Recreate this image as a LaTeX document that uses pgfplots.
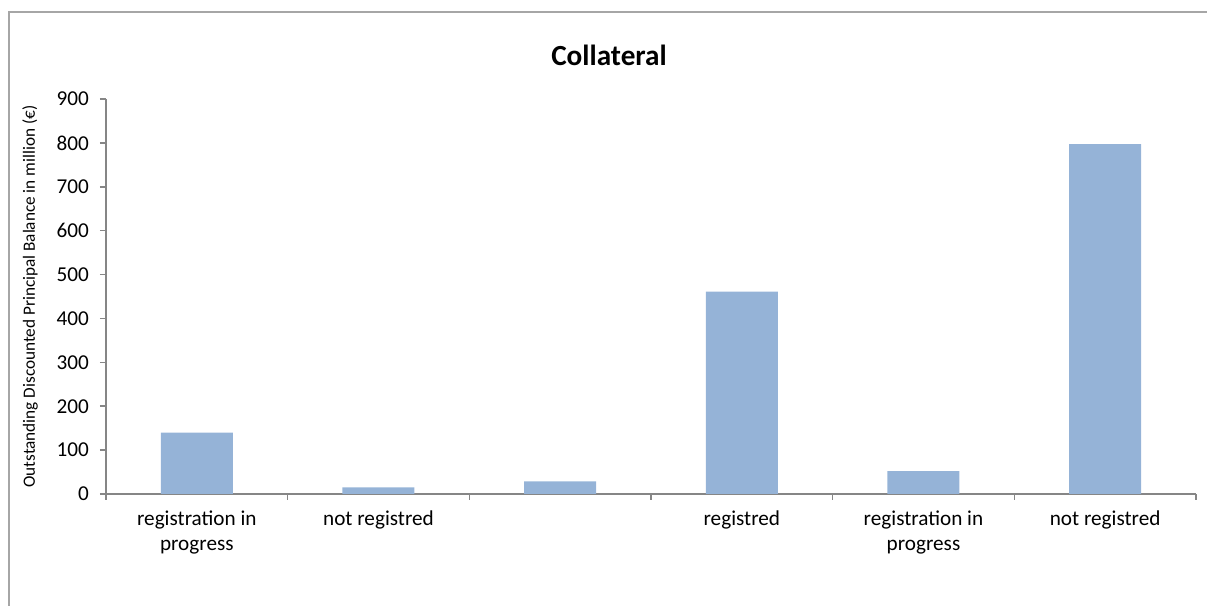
\documentclass[border=0pt]{standalone}
\usepackage{fontspec}
\setmainfont{Carlito}
\usepackage{pgfplots}
\pgfplotsset{compat=1.18}
\definecolor{barblue}{HTML}{95B3D7}
\definecolor{axisgray}{HTML}{868686}
\definecolor{framegray}{HTML}{A6A6A6}
\begin{document}
\begin{tikzpicture}
  \useasboundingbox (0,0) rectangle (603.5pt,303pt);
  % chart frame (only top and left edges are inside the picture)
  \draw[framegray, line width=0.8pt] (4.5pt,-2pt) -- (4.5pt,297pt) -- (610pt,297pt);
  \begin{axis}[
      at={(53pt,56pt)},
      anchor=origin,
      scale only axis,
      width=545pt,
      height=197.5pt,
      xmin=0.5, xmax=6.5,
      ymin=0, ymax=900,
      axis x line=bottom,
      axis y line=left,
      axis line style={-, axisgray, line width=0.75pt},
      ytick={0,100,...,900},
      xtick={1,...,6},
      major x tick style={draw=none},
      minor xtick={0.5,1.5,...,6.5},
      minor x tick style={axisgray, line width=0.75pt},
      minor tick length=3pt,
      y tick style={axisgray, line width=0.75pt},
      major tick length=3pt,
      tick align=outside,
      xticklabels={{registration in\\progress}, {not registred}, {}, {registred}, {registration in\\progress}, {not registred}},
      xticklabel style={align=center, font=\fontsize{10.6}{12.5}\selectfont, yshift=-2pt},
      yticklabel style={font=\fontsize{10.6}{12}\selectfont, xshift=-2pt},
      /pgf/number format/assume math mode=true,
      ybar,
      bar width=36pt,
      ylabel={Outstanding Discounted Principal Balance in million (€)},
      ylabel style={at={(rel axis cs:-0.0697,0.5)}, anchor=center, font=\fontsize{8.6}{10}\selectfont},
    ]
    \addplot[fill=barblue, draw=none] coordinates {
        (1, 140)
        (2, 15)
        (3, 29)
        (4, 461)
        (5, 52)
        (6, 797)
      };
  \end{axis}
  \node[font=\fontsize{14.6}{17}\selectfont\bfseries] at (304.5pt,275.5pt) {Collateral};
\end{tikzpicture}
\end{document}
